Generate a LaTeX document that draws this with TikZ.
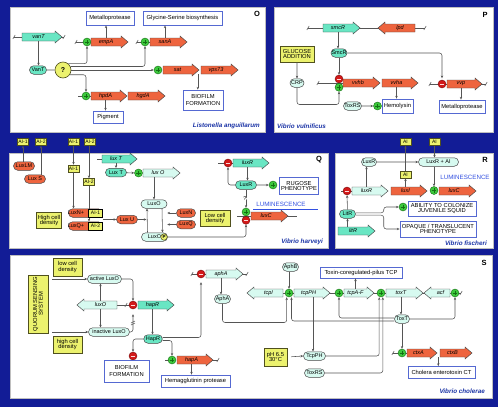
\documentclass[tikz,border=0pt]{standalone}
\usepackage{fontspec}
\setmainfont{Liberation Sans}
\usetikzlibrary{shapes.misc,arrows.meta,calc}
\definecolor{bgblue}{RGB}{18,28,150}
\definecolor{teal}{RGB}{105,230,195}
\definecolor{lcyan}{RGB}{215,250,240}
\definecolor{orng}{RGB}{238,100,62}
\definecolor{ylw}{RGB}{236,242,110}
\definecolor{ybd}{RGB}{80,80,30}
\definecolor{pgreen}{RGB}{60,200,60}
\definecolor{dgreen}{RGB}{20,110,20}
\definecolor{mred}{RGB}{210,25,25}
\definecolor{dred}{RGB}{120,10,10}
\definecolor{bblue}{RGB}{85,105,210}
\definecolor{lgray}{RGB}{85,85,85}
\definecolor{gbord}{RGB}{70,70,70}
\definecolor{sblue}{RGB}{25,50,165}
\definecolor{lblue}{RGB}{50,80,225}
\newcommand\fsz[1]{\fontsize{#1}{#1}\selectfont}
\pgfdeclarelayer{panels}
\pgfdeclarelayer{bg}
\pgfsetlayers{panels,bg,main}
% right-pointing gene: name, xL, xR(tip), y, fill, text
\newcommand\gR[6]{%
  \path[gbd, fill=#5] (#2,#4-4) -- (#3-7,#4-4) -- (#3-7,#4-6) -- (#3,#4) -- (#3-7,#4+6) -- (#3-7,#4+4) -- (#2,#4+4) -- cycle;
  \node[gtext, minimum width={(#3-#2-7)*1pt}] (#1) at ({(#2+#3-7)/2},#4) {#6};}
% left-pointing gene: name, xL(tip), xR, y, fill, text
\newcommand\gL[6]{%
  \path[gbd, fill=#5] (#3,#4-4) -- (#2+7,#4-4) -- (#2+7,#4-6) -- (#2,#4) -- (#2+7,#4+6) -- (#2+7,#4+4) -- (#3,#4+4) -- cycle;
  \node[gtext, minimum width={(#3-#2-7)*1pt}] (#1) at ({(#2+7+#3)/2},#4) {#6};}
\begin{document}
\begin{tikzpicture}[x=1pt,y=-1pt,
  conn/.style={draw=lgray, line width=0.55pt, rounded corners=2.5pt},
  arr/.style={conn, -{Stealth[length=2.8pt,width=2.4pt]}},
  wbox/.style={draw=bblue, line width=0.8pt, fill=white, font=\fsz{5.8}, align=center, inner sep=0pt},
  ybox/.style={draw=ybd, line width=0.6pt, fill=ylw, font=\fsz{5.8}, align=center, inner sep=0pt},
  aibox/.style={ybox, font=\fsz{5}, minimum width=11pt, minimum height=7pt},
  ov/.style={rounded rectangle, draw=gbord, line width=0.5pt, font=\fsz{5.5}, minimum height=8.5pt, inner xsep=1.5pt, inner ysep=0pt},
  ovT/.style={ov, fill=teal},
  ovC/.style={ov, fill=lcyan},
  ovO/.style={ov, fill=orng},
  txt/.style={font=\fsz{5.5}, inner sep=0pt},
  plus/.style={circle, fill=pgreen, draw=dgreen, line width=0.4pt, minimum size=8pt, inner sep=0pt,
    path picture={\draw[line width=0.9pt] ([xshift=-2.3pt]path picture bounding box.center) -- ([xshift=2.3pt]path picture bounding box.center) ([yshift=-2.3pt]path picture bounding box.center) -- ([yshift=2.3pt]path picture bounding box.center);}},
  minus/.style={circle, fill=mred, draw=dred, line width=0.4pt, minimum size=8pt, inner sep=0pt,
    path picture={\draw[line width=1pt, white!85!red] ([xshift=-2.3pt]path picture bounding box.center) -- ([xshift=2.3pt]path picture bounding box.center);}},
  qc/.style={circle, fill=ylw, draw=ybd, line width=0.6pt, minimum size=16pt, inner sep=0pt, font=\fsz{7}\bfseries},
  pc/.style={circle, fill=ylw, draw=ybd, line width=0.5pt, minimum size=6.5pt, inner sep=0pt, font=\fsz{4.5}\bfseries},
  gtext/.style={font=\fsz{5.5}\itshape, inner sep=0pt, minimum height=8pt},
  gbd/.style={draw=gbord, line width=0.45pt},
  panel/.style={fill=white, draw=gray!50, line width=0.5pt},
  plabel/.style={font=\fsz{7.5}\bfseries, inner sep=0pt},
  species/.style={font=\fsz{6.3}\bfseries\itshape, text=sblue, inner sep=0pt},
  lumi/.style={font=\fsz{6.2}, text=lblue, inner sep=0pt},
  wavy/.pic={\draw[draw=lgray, line width=0.55pt] (-1.2,2) .. controls (-0.2,1.2) and (0.2,-1.2) .. (1.2,-2);},
  brk/.pic={\draw[draw=lgray, line width=0.55pt] (-2,0.5) -- (2,-1.5) (-2,2.5) -- (2,0.5);}
]
\useasboundingbox (0,0) rectangle (498,407);
\begin{pgfonlayer}{panels}
  \fill[bgblue] (0,0) rectangle (498,407);
  \path[panel] (10,7) rectangle (265,132);
  \path[panel] (274,7) rectangle (493,132);
  \path[panel] (9,153) rectangle (328,248);
  \path[panel] (335,153) rectangle (493,248);
  \path[panel] (10,255) rectangle (492,398);
\end{pgfonlayer}

%%%%%%%%%%%%%%%% O
\node[plabel] (lO) at (257,14) {O};
\coordinate (o1L) at (14,37); \coordinate (o1R) at (64,37);
\draw[conn] (o1L) -- (o1R); \pic at (o1L) {wavy}; \pic at (o1R) {wavy};
\gR{gvanT}{22}{62}{37}{teal}{vanT}
\node[ovT, minimum width=20pt] (VanT) at (38,70) {VanT};
\node[qc] (Qm) at (63,70) {?};
\draw[conn] (VanT) -- (Qm);
\draw[arr] (gvanT.south) -- (gvanT.south |- VanT.north);

\coordinate (o2L) at (76,42); \coordinate (o2R) at (95,42);
\draw[conn] (o2L) -- (o2R); \pic at (o2L) {wavy};
\node[plus] (pE) at (87,42) {};
\gR{gempA}{91}{128}{42}{orng}{empA}
\node[wbox, minimum width=48pt, minimum height=14pt] (metO) at (110,18) {Metalloprotease};
\draw[arr] (gempA.north) -- (gempA.north |- metO.south);

\coordinate (o3L) at (137,42); \coordinate (o3R) at (155,42);
\draw[conn] (o3L) -- (o3R); \pic at (o3L) {wavy};
\node[plus] (pS) at (145,42) {};
\gR{gsanA}{150}{187}{42}{orng}{sanA}
\node[wbox, minimum width=79pt, minimum height=14pt] (gly) at (182.5,18) {Glycine-Serine biosynthesis};
\draw[arr] (gsanA.north) -- (gsanA.north |- gly.south);

\node[plus] (pSat) at (158,70) {};
\gR{gsat}{163}{199}{70}{orng}{sat}
\gR{gvps}{201}{238}{70}{orng}{vps73}
\node[wbox, minimum width=40pt, minimum height=20pt] (bioO) at (203,100) {BIOFILM\\[1.5pt]FORMATION};
\draw[arr] ([xshift=-3pt]gvps.south west) -- ([xshift=-3pt]gvps.south west |- bioO.north);

\coordinate (o4L) at (78,96); \coordinate (o4R) at (95,96);
\draw[conn] (o4L) -- (o4R);
\node[plus] (pH) at (86,96) {};
\gR{ghpdA}{91}{127}{96}{orng}{hpdA}
\gR{ghgdA}{128}{165}{96}{orng}{hgdA}
\node[wbox, minimum width=30pt, minimum height=12pt] (pig) at (108,117) {Pigment};
\draw[arr] (ghpdA.south) -- (ghpdA.south |- pig.north);

\draw[arr] (Qm.50) -| (pE.south);
\draw[arr] (Qm.25) -| (pS.south);
\draw[arr] (Qm.east) -- (pSat.west);
\draw[arr] (Qm.-35) -| (pH.north);
\node[species, anchor=east] (spO) at (260,126) {Listonella anguillarum};

%%%%%%%%%%%%%%%% P
\node[plabel] (lP) at (485,15) {P};
\coordinate (p1L) at (308,28); \coordinate (p1R) at (425,28);
\draw[conn] (p1L) -- (p1R); \pic at (p1L) {wavy}; \pic at (p1R) {wavy};
\gR{gsmcR}{323}{360}{28}{teal}{smcR}
\gL{glpd}{378}{415}{28}{orng}{lpd}
\node[ovT, minimum width=19pt] (SmcR) at (339,53) {SmcR};
\draw[arr] (gsmcR.south) -- (gsmcR.south |- SmcR.north);
\node[ybox, minimum width=34pt, minimum height=16pt] (gluc) at (297,54) {GLUCOSE\\ADDITION};
\node[ovC, minimum width=17pt] (CRP) at (297,83) {CRP};
\draw[arr] (gluc) -- (CRP);
\coordinate (p2L) at (318,83); \coordinate (p2R) at (345,83);
\draw[conn] (p2L) -- (p2R); \pic at (p2L) {wavy};
\gR{gvvhb}{343}{380}{83}{orng}{vvhb}
\gR{gvvha}{382}{418}{83}{orng}{vvha}
\node[minus] (mV) at (339,79) {};
\node[plus] (pV) at (339,87.3) {};
\draw[arr] (SmcR.south) -- (mV.north);
\draw[arr] (CRP.south) -- ++(0,17) -| (pV.south);
\node[wbox, minimum width=31pt, minimum height=14pt] (hem) at (397.5,106) {Hemolysin};
\draw[arr] (gvvha.south) -- (gvvha.south |- hem.north);
\node[ovC, minimum width=21pt] (ToxRSp) at (352.5,106) {ToxRS};
\node[plus] (pHem) at (377.5,106) {};
\draw[arr] (ToxRSp) -- (pHem);
\coordinate (p3L) at (430,84); \coordinate (p3R) at (486,84);
\draw[conn] (p3L) -- (p3R); \pic at (p3L) {wavy}; \pic at (p3R) {wavy};
\node[minus] (mVvp) at (442,84) {};
\gR{gvvp}{447}{482}{84}{orng}{vvp}
\draw[arr, shorten >=1.5pt] (SmcR.east) -| (mVvp.north);
\node[wbox, minimum width=46pt, minimum height=13pt] (metP) at (462,106.5) {Metalloprotease};
\draw[arr] (gvvp.south) -- (gvvp.south |- metP.north);
\node[species, anchor=west] (spP) at (277,126) {Vibrio vulnificus};

%%%%%%%%%%%%%%%% Q
\node[plabel] (lQ) at (319,160) {Q};
\node[aibox] (qa1) at (23,142) {AI-1};
\node[aibox] (qa2) at (41,142) {AI-2};
\node[aibox] (qa3) at (73.5,142) {AI-1};
\node[aibox] (qa4) at (90,142) {AI-2};
\node[ovO, minimum width=24pt] (LuxLM) at (24,166) {LuxLM};
\node[ovO, minimum width=24pt] (LuxS) at (35,179) {Lux S};
\draw[arr] (LuxLM.north -| qa1) -- (qa1.south);
\draw[arr] (LuxS.north -| qa2) -- (qa2.south);
\node[aibox] (qa5) at (73.5,168.5) {AI-1};
\node[aibox] (qa6) at (89,182) {AI-2};
\draw[arr] (qa3.south) -- (qa3.south |- qa5.north);
\draw[arr] (qa4.south -| qa6) -- (qa6.north);
\node[ovO, minimum width=37pt] (LNA) at (85.5,213) {};
\node[txt] (LNAt) at (76,213) {LuxN+};
\node[aibox, minimum width=14pt, minimum height=8pt, draw=black] (LNAai) at (95.5,213) {AI-1};
\node[ovO, minimum width=37pt] (LQA) at (85.5,226) {};
\node[txt] (LQAt) at (76,226) {LuxQ+};
\node[aibox, minimum width=14pt, minimum height=8pt, draw=black] (LQAai) at (95.5,226) {AI-2};
\draw[arr] (qa5.south) -- (qa5.south |- LNA.north);
\begin{pgfonlayer}{bg}
\draw[arr] (qa6.south) -- (qa6.south |- LQA.north);
\end{pgfonlayer}
\node[ybox, minimum width=25pt, minimum height=15.5pt] (hcdQ) at (49,220.5) {High cell\\density};
\node[ovO, minimum width=24pt] (LuxU) at (127,219.5) {Lux U};
\draw[arr] ($(LNA.east)!0.5!(LQA.east)$) -- (LuxU.west);
\node[ovC, minimum width=29pt] (LuxOq) at (154,204) {LuxO};
\node[ovC, minimum width=29pt] (LuxOP) at (154.5,237) {LuxO\hspace{7pt}};
\node[pc] (Pq) at (164,237) {P};
\coordinate (qj) at (146.5,219.5);
\draw[arr] (LuxU.east) -- (qj);
\draw[arr] ([xshift=-7pt]LuxOP.north) -- ([xshift=-7pt]LuxOq.south);
\draw[arr] ([xshift=8pt]LuxOq.south) -- ([xshift=8pt]LuxOP.north);
\node[ovO, minimum width=22pt] (LuxNq) at (186,213) {LuxN};
\node[ovO, minimum width=22pt] (LuxQq) at (186,224.5) {LuxQ};
\draw[arr] (LuxNq.west) -- ++(-9,0);
\draw[arr] (LuxQq.west) -- ++(-9,0);
\node[ybox, minimum width=30pt, minimum height=16.5pt] (lcdQ) at (215,218.5) {Low cell\\density};
\coordinate (q1L) at (97,159); \coordinate (q1R) at (105,159);
\draw[conn] (q1L) -- (q1R);
\gR{gluxT}{102}{137}{159}{teal}{lux T}
\node[ovT, minimum width=24pt] (LuxT) at (116,172.5) {Lux T};
\draw[arr] (gluxT.south) -- (gluxT.south |- LuxT.north);
\node[plus] (pLO) at (138.5,173) {};
\gR{gluxOq}{143}{180}{173}{lcyan}{lux O}
\draw[arr] (LuxT) -- (pLO);
\draw[arr] (gluxOq.south -| LuxOq) -- (LuxOq.north);
\coordinate (q2L) at (218,163); \coordinate (q2R) at (236,163);
\draw[conn] (q2L) -- (q2R);
\node[minus] (mLR) at (228,163) {};
\gR{gluxRq}{233}{269}{163}{teal}{luxR}
\node[ovT, minimum width=24pt] (LuxRq) at (246,185) {LuxR};
\draw[arr] (gluxRq.south) -- (gluxRq.south |- LuxRq.north);
\draw[arr] (LuxRq.west) -| (mLR.south);
\node[plus] (pRug) at (273,185) {};
\draw[arr] (LuxRq) -- (pRug);
\node[wbox, minimum width=39pt, minimum height=16.5pt] (rug) at (299,186) {RUGOSE\\PHENOTYPE};
\coordinate (q3L) at (237,216); \coordinate (q3R) at (297,216);
\draw[conn] (q3L) -- (q3R);
\gR{gluxCq}{251}{288}{216}{orng}{luxC}
\node[plus] (pLC) at (246,212) {};
\node[minus] (mLC) at (246,220.3) {};
\draw[arr] (LuxRq.south) -- (pLC.north) node[midway, fill=white, inner sep=0.3pt, font=\fsz{5.5}, xshift=-1pt] (qmark) {?};
\draw[arr] (LuxOP.east) -| (mLC.south);
\node[lumi] (lumQ) at (281,204) {LUMINESCENCE};
\coordinate (uL) at (253,209); \coordinate (uR) at (318,209);
\draw[draw=lblue, line width=0.6pt] (uL) -- (uR);
\node[species, anchor=east] (spQ) at (323,242) {Vibrio harveyi};

%%%%%%%%%%%%%%%% R
\node[plabel] (lR) at (485,160) {R};
\node[aibox] (ra1) at (405.5,142) {AI};
\node[aibox] (ra2) at (434.5,142) {AI};
\node[ovC, minimum width=18pt] (LuxRr) at (369,162) {LuxR};
\node[ovC, minimum width=43pt] (LRAI) at (438.5,162) {LuxR + AI};
\draw[arr] (LuxRr) -- (LRAI);
\draw[arr] (ra2.south) -- (ra2.south |- LRAI.north);
\coordinate (r1L) at (341,191); \coordinate (r1R) at (353,191);
\draw[conn] (r1L) -- (r1R);
\gR{gluxRr}{352}{388}{191}{lcyan}{luxR}
\gR{gluxI}{391}{427}{191}{orng}{luxI}
\gR{gluxCr}{439}{476}{191}{orng}{luxC}
\node[minus] (mR) at (347,191) {};
\node[plus] (pR) at (434,190.5) {};
\node[aibox] (ra0) at (405.5,174.5) {AI};
\draw[arr] (gluxI.north) -- (gluxI.north |- ra0.south);
\draw[arr] (ra0.north) -- (ra1.south);
\draw[arr] (gluxRr.north) -- (gluxRr.north |- LuxRr.south);
\draw[arr] (LRAI.south -| pR) -- (pR.north);
\node[lumi] (lumR) at (465,177) {LUMINESCENCE};
\node[ovT, minimum width=19pt] (LitR) at (347.5,214) {LitR};
\draw[arr] (LitR) -- (mR);
\gR{glitR}{338}{375}{231}{teal}{litR}
\draw[arr] (glitR.north -| LitR) -- (LitR.south);
\node[plus] (pAb) at (403,207) {};
\node[wbox, minimum width=68pt, minimum height=15pt] (abil) at (442,208.5) {ABILITY TO COLONIZE\\JUVENILE SQUID};
\node[wbox, minimum width=76pt, minimum height=16pt] (opq) at (438,229) {OPAQUE / TRANSLUCENT\\PHENOTYPE};
\draw[arr] ([yshift=1.2pt]LitR.east) -- ++(28,0) |- (pAb.west);
\draw[arr] ([yshift=-1.2pt]LitR.east) -- ++(28,0) |- (opq.west);
\node[species, anchor=east] (spR) at (487,243) {Vibrio fischeri};

%%%%%%%%%%%%%%%% S
\node[plabel] (lS) at (484,263) {S};
\node[ybox, minimum width=29pt, minimum height=18pt] (lcdS) at (67.5,267) {low cell\\density};
\node[ybox, minimum width=20pt, minimum height=58pt] (QSS) at (38,304) {};
\node[rotate=90, font=\fsz{5.8}, align=center, inner sep=0pt] (QSSt) at (QSS.center) {QUORUM SENSING\\SYSTEM};
\node[ovC, minimum width=37pt] (actO) at (104.5,279) {active LuxO};
\node[ovC, minimum width=44pt] (inaO) at (109,332) {inactive LuxO};
\node[ybox, minimum width=29pt, minimum height=17pt] (hcdS) at (67.5,344.5) {high cell\\density};
\draw[arr] ([xshift=4pt]QSS.east |- actO) -- (actO.west);
\draw[arr] ([xshift=4pt]QSS.east |- inaO) -- (inaO.west);
\coordinate (s1L) at (117,305); \coordinate (s1R) at (134,305); \coordinate (s1W) at (126,305);
\draw[conn] (s1L) -- (s1R); \pic at (s1W) {wavy};
\gL{gluxOs}{77}{117}{305}{lcyan}{luxO}
\node[minus] (mHapR) at (133,305) {};
\gR{ghapR}{138}{174}{305}{teal}{hapR}
\draw[arr] (gluxOs.north) -- (gluxOs.north |- actO.south);
\draw[arr] (gluxOs.south) -- (gluxOs.south |- inaO.north);
\draw[arr] (actO.east) -| (mHapR.north);
\draw[arr, shorten >=5pt] (inaO.east) -| (mHapR.south);
\coordinate (sl) at (133,322.5); \pic at (sl) {brk};
\node[ovT, minimum width=18pt] (HapR) at (153,339) {HapR};
\draw[arr] (ghapR.south) -- (ghapR.south |- HapR.north);
\node[minus] (mBio) at (133,356) {};
\draw[arr] (HapR.west) -| (mBio.north);
\node[wbox, minimum width=45pt, minimum height=22pt] (bioS) at (126.5,371) {BIOFILM\\[1.5pt]FORMATION};
\coordinate (s2L) at (165,360); \coordinate (s2R) at (175,360);
\draw[conn] (s2L) -- (s2R);
\coordinate (s3L) at (210,360); \coordinate (s3R) at (218,360);
\draw[conn] (s3L) -- (s3R); \pic at (s3R) {wavy};
\node[plus] (pHapA) at (172,360) {};
\gR{ghapA}{177}{213}{360}{orng}{hapA}
\draw[arr] ([yshift=-1.5pt]HapR.east) -| (pHapA.north);
\node[wbox, minimum width=69pt, minimum height=12pt] (hemS) at (195.5,381) {Hemagglutinin protease};
\draw[arr] (ghapA.south) -- (ghapA.south |- hemS.north);
\coordinate (s4L) at (192,274); \coordinate (s4R) at (247,274);
\draw[conn] (s4L) -- (s4R); \pic at (s4L) {wavy}; \pic at (s4R) {wavy};
\node[minus] (maphA) at (201,274) {};
\gR{gaphA}{206}{243}{274}{lcyan}{aphA}
\draw[arr, shorten >=4pt] ([yshift=1.5pt]HapR.east) -| (maphA.south);
\node[ovC, minimum width=19pt] (AphA) at (222.5,299) {AphA};
\draw[arr] (gaphA.south) -- (gaphA.south |- AphA.north);
\coordinate (s5L) at (283,293); \coordinate (s5R) at (461,293);
\draw[conn] (s5L) -- (s5R); \pic at (s5R) {wavy};
\gL{gtcpI}{247}{283}{293}{lcyan}{tcpI}
\gR{gtcpPH}{294}{330}{293}{lcyan}{tcpPH}
\gR{gtcpA}{344}{374}{293}{lcyan}{tcpA-F}
\gR{gtoxT}{386}{423}{293}{lcyan}{toxT}
\gL{gacf}{424}{450}{293}{lcyan}{acf}
\node[plus] (pTcp) at (289,293) {};
\node[plus] (pTA) at (339,293) {};
\node[plus] (pTox) at (381,293) {};
\node[plus] (pAcf) at (455,293) {};
\node[ovC, minimum width=19pt] (AphB) at (290.5,267) {AphB};
\draw[arr] (AphB.south -| pTcp) -- (pTcp.north);
\node[wbox, minimum width=82pt, minimum height=11pt] (tcpbox) at (361,272.5) {Toxin-coregulated-pilus TCP};
\draw[arr] (gtcpA.north) -- (gtcpA.north |- tcpbox.south);
\draw[arr] (AphA.south) -- ++(0,19) -| ([xshift=-2.3pt]pTcp.south);
\node[ovC, minimum width=18pt] (ToxT) at (402,319) {ToxT};
\draw[arr] (gtoxT.south) -- (gtoxT.south |- ToxT.north);
\draw[arr] ([yshift=1pt]ToxT.west) -| (pTA.south);
\draw[arr] ([yshift=-2pt]ToxT.west) -| ([xshift=2.5pt]pTcp.south);
\draw[arr] (ToxT.east) -| (pAcf.south);
\coordinate (s6L) at (393,353); \coordinate (s6R) at (410,353);
\draw[conn] (s6L) -- (s6R); \pic at (s6L) {wavy};
\gR{gctxA}{407}{437}{353}{orng}{ctxA}
\gR{gctxB}{440}{472}{353}{orng}{ctxB}
\node[plus] (pCtx) at (402,353) {};
\draw[arr] (ToxT.south) -- (pCtx.north);
\node[wbox, minimum width=67pt, minimum height=12pt] (ctbox) at (441.5,372.5) {Cholera enterotoxin CT};
\draw[arr] ([xshift=-1.5pt]gctxB.south west) -- ([xshift=-1.5pt]gctxB.south west |- ctbox.north);
\node[ovC, minimum width=25pt] (TcpPH) at (314.5,356) {TcpPH};
\draw[arr] ([xshift=4.5pt]gtcpPH.south) -- ([xshift=4.5pt]gtcpPH.south |- TcpPH.north);
\node[ybox, minimum width=23pt, minimum height=18pt] (phbox) at (275.5,357) {pH 6.5\\30°C};
\draw[arr, shorten <=4pt] (phbox.east) -- (TcpPH.west);
\draw[arr] (TcpPH.east) -| ([xshift=-1.8pt]pTox.south);
\node[ovC, minimum width=23pt] (ToxRSs) at (314.5,373) {ToxRS};
\draw[arr] (ToxRSs.east) -| ([xshift=1.8pt]pTox.south);
\node[species, anchor=east] (spS) at (485,391) {Vibrio cholerae};
\end{tikzpicture}
\end{document}
